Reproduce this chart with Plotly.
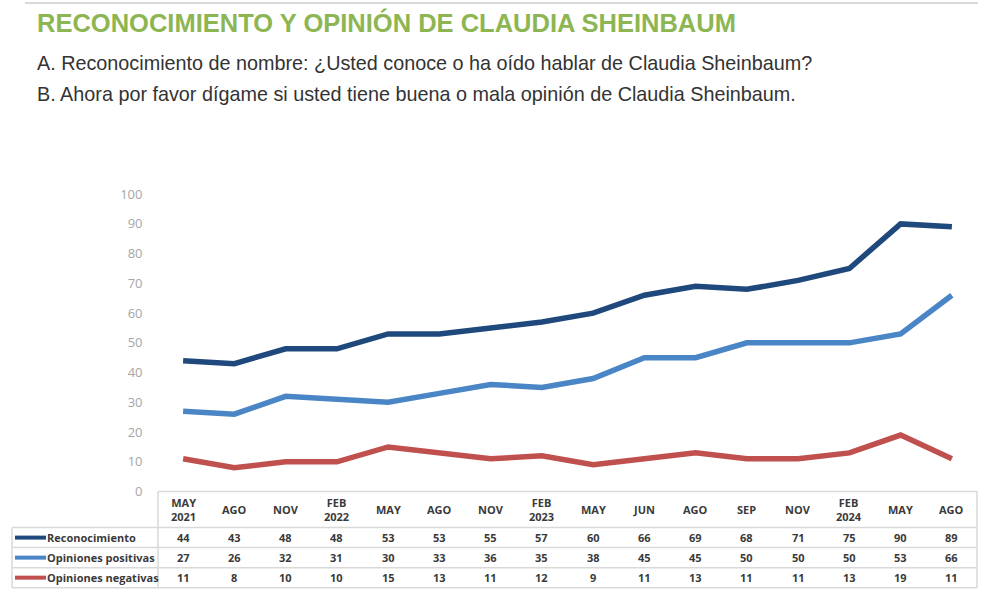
import plotly.graph_objects as go

W, H = 992, 606

categories = ["MAY<br>2021", "AGO", "NOV", "FEB<br>2022", "MAY", "AGO", "NOV", "FEB<br>2023",
              "MAY", "JUN", "AGO", "SEP", "NOV", "FEB<br>2024", "MAY", "AGO"]
series_names = ["Reconocimiento", "Opiniones positivas", "Opiniones negativas"]
reconocimiento = [44, 43, 48, 48, 53, 53, 55, 57, 60, 66, 69, 68, 71, 75, 90, 89]
positivas = [27, 26, 32, 31, 30, 33, 36, 35, 38, 45, 45, 50, 50, 50, 53, 66]
negativas = [11, 8, 10, 10, 15, 13, 11, 12, 9, 11, 13, 11, 11, 13, 19, 11]
y_ticks = [0, 10, 20, 30, 40, 50, 60, 70, 80, 90, 100]

title = "RECONOCIMIENTO Y OPINIÓN DE CLAUDIA SHEINBAUM"
sub_a = "A. Reconocimiento de nombre: ¿Usted conoce o ha oído hablar de Claudia Sheinbaum?"
sub_b = "B. Ahora por favor dígame si usted tiene buena o mala opinión de Claudia Sheinbaum."

colors = ["#1F497D", "#4A86C6", "#C0504D"]
series = [reconocimiento, positivas, negativas]

# observed vertical mapping of the viewer (rendered = 9.1 + 0.969 * layout)
V_OFF, V_SCALE = 9.1, 0.969


def px(x):
    return x / W


def py(y):
    return 1 - ((y - V_OFF) / V_SCALE) / H


xs = list(range(len(categories)))

fig = go.Figure()
for name, vals, c in zip(series_names, series, colors):
    fig.add_trace(go.Scatter(x=xs, y=vals, mode="lines", name=name,
                             line=dict(color=c, width=5.5), showlegend=False,
                             hoverinfo="skip"))

annotations = []
shapes = []

# Title and subtitles
annotations.append(dict(text="<b>" + title + "</b>", x=px(35), y=py(23), xref="paper", yref="paper",
                        xanchor="left", yanchor="middle", showarrow=False,
                        font=dict(family="Liberation Sans, Arial", size=25.5, color="#8DB653")))
annotations.append(dict(text=sub_a, x=px(35), y=py(63), xref="paper", yref="paper",
                        xanchor="left", yanchor="middle", showarrow=False,
                        font=dict(family="Liberation Sans, Arial", size=19.8, color="#333333")))
annotations.append(dict(text=sub_b, x=px(35), y=py(94), xref="paper", yref="paper",
                        xanchor="left", yanchor="middle", showarrow=False,
                        font=dict(family="Liberation Sans, Arial", size=19.8, color="#333333")))

# top gray line
shapes.append(dict(type="line", xref="paper", yref="paper", x0=px(25), x1=px(978), y0=py(3), y1=py(3),
                   line=dict(color="#D9D9D9", width=2)))

# Table geometry (pixels)
tbl_top = 491
row_bounds = [527, 547, 567, 587]
left, mid, right = 12, 158, 977
tcol = "#3A3A3A"
tfont = dict(family="Open Sans, Segoe UI, sans-serif", size=11, color=tcol)
gcol = "#D9D9D9"

# header cells
for i, cat in enumerate(categories):
    annotations.append(dict(text="<b>" + cat + "</b>", x=i, y=py(509), xref="x", yref="paper",
                            xanchor="center", yanchor="middle", showarrow=False, font=tfont))
# value cells and row labels
for r, (name, vals, c) in enumerate(zip(series_names, series, colors)):
    yc = (row_bounds[r] + row_bounds[r + 1]) / 2
    for i, v in enumerate(vals):
        annotations.append(dict(text="<b>" + str(v) + "</b>", x=i, y=py(yc), xref="x", yref="paper",
                                xanchor="center", yanchor="middle", showarrow=False, font=tfont))
    annotations.append(dict(text="<b>" + name + "</b>", x=px(45), y=py(yc), xref="paper", yref="paper",
                            xanchor="left", yanchor="middle", showarrow=False, font=tfont))
    shapes.append(dict(type="line", xref="paper", yref="paper", x0=px(15), x1=px(46),
                       y0=py(yc), y1=py(yc), line=dict(color=c, width=4)))

# table lines
shapes.append(dict(type="line", xref="paper", yref="paper", x0=px(mid), x1=px(right),
                   y0=py(tbl_top), y1=py(tbl_top), line=dict(color=gcol, width=1.5)))
for yb in row_bounds:
    shapes.append(dict(type="line", xref="paper", yref="paper", x0=px(left), x1=px(right),
                       y0=py(yb), y1=py(yb), line=dict(color=gcol, width=1.5)))
shapes.append(dict(type="line", xref="paper", yref="paper", x0=px(left), x1=px(left),
                   y0=py(row_bounds[0]), y1=py(row_bounds[-1]), line=dict(color=gcol, width=1.5)))
shapes.append(dict(type="line", xref="paper", yref="paper", x0=px(mid), x1=px(mid),
                   y0=py(tbl_top), y1=py(row_bounds[-1]), line=dict(color=gcol, width=1.5)))
shapes.append(dict(type="line", xref="paper", yref="paper", x0=px(right), x1=px(right),
                   y0=py(tbl_top), y1=py(row_bounds[-1]), line=dict(color=gcol, width=1.5)))

fig.update_layout(
    width=W, height=H, margin=dict(l=0, r=0, t=0, b=0),
    paper_bgcolor="white", plot_bgcolor="white",
    xaxis=dict(domain=[px(157.5), px(977.5)], range=[-0.5, len(categories) - 0.5],
               showticklabels=False, showgrid=False, zeroline=False, showline=False, fixedrange=True),
    yaxis=dict(domain=[py(491), py(194)], range=[0, 100], tickvals=y_ticks,
               showgrid=False, zeroline=False, showline=False, ticks="",
               ticklabelstandoff=14,
               tickfont=dict(family="Open Sans, Segoe UI, sans-serif", size=13, color="#A6A6A6"),
               fixedrange=True),
    annotations=annotations, shapes=shapes,
)

fig.write_html("out.html")
